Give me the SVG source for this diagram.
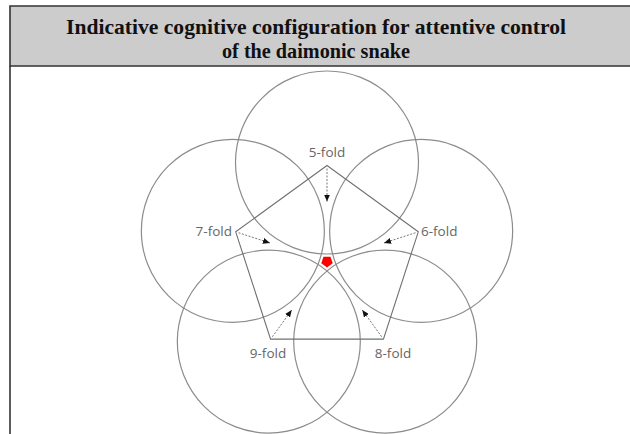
<svg xmlns="http://www.w3.org/2000/svg" width="630" height="434" viewBox="0 0 630 434">
<style>
.title{font-family:"Liberation Serif","Times New Roman",serif;font-weight:bold;font-size:21px;fill:#111;text-anchor:middle}
.circ{fill:none;stroke:#8c8c8c;stroke-width:1.2}
.pent{fill:none;stroke:#707070;stroke-width:1.1;stroke-linejoin:miter}
.lbl{font-family:"Open Sans","Liberation Sans",sans-serif;font-size:13.5px;fill:#666}
.arr{fill:none;stroke:#777;stroke-width:1;stroke-dasharray:2 1.5}
</style>
<defs>
<marker id="ah" markerUnits="userSpaceOnUse" markerWidth="8" markerHeight="6" refX="7" refY="3" orient="auto">
<path d="M0,0 L7,3 L0,6 z" fill="#111"/>
</marker>
</defs>
<rect x="0" y="0" width="630" height="434" fill="#fff"/>
<g id="header">
<rect x="10" y="6" width="622" height="60" fill="#cccccc"/>
<path d="M630,6 H10 V66 H630" fill="none" stroke="#333" stroke-width="1.6"/>
<line x1="10" y1="66" x2="10" y2="434" stroke="#333" stroke-width="1.6"/>
<text class="title" x="316" y="34" textLength="500" lengthAdjust="spacingAndGlyphs">Indicative cognitive configuration for attentive control</text>
<text class="title" x="316" y="58" textLength="188" lengthAdjust="spacingAndGlyphs">of the daimonic snake</text>
</g>
<g id="circles">
<circle class="circ" cx="327" cy="162.5" r="91.5"/>
<circle class="circ" cx="421.15" cy="230.9" r="91.5"/>
<circle class="circ" cx="232.85" cy="230.9" r="91.5"/>
<circle class="circ" cx="385.19" cy="341.6" r="91.5"/>
<circle class="circ" cx="268.81" cy="341.6" r="91.5"/>
</g>
<g id="pentagon">
<polygon class="pent" points="327,165.5 418.3,231.8 383.43,339.17 270.57,339.17 235.7,231.8"/>
</g>
<g id="center">
<polygon points="327,267.5 321.29,263.35 323.47,256.65 330.53,256.65 332.71,263.35" fill="#ff0000"/>
</g>
<g id="connectors">
<line class="arr" x1="327" y1="168.5" x2="327" y2="201.5" marker-end="url(#ah)"/>
<line class="arr" x1="415.45" y1="232.76" x2="384.07" y2="242.96" marker-end="url(#ah)"/>
<line class="arr" x1="238.55" y1="232.76" x2="269.93" y2="242.96" marker-end="url(#ah)"/>
<line class="arr" x1="381.67" y1="336.74" x2="362.27" y2="310.04" marker-end="url(#ah)"/>
<line class="arr" x1="272.33" y1="336.74" x2="291.73" y2="310.04" marker-end="url(#ah)"/>
</g>
<g id="fold5"><text class="lbl" x="327" y="157" text-anchor="middle">5-fold</text></g>
<g id="fold6"><text class="lbl" x="421" y="236">6-fold</text></g>
<g id="fold7"><text class="lbl" x="232" y="236" text-anchor="end">7-fold</text></g>
<g id="fold8"><text class="lbl" x="393" y="358" text-anchor="middle">8-fold</text></g>
<g id="fold9"><text class="lbl" x="268" y="358" text-anchor="middle">9-fold</text></g>
</svg>
